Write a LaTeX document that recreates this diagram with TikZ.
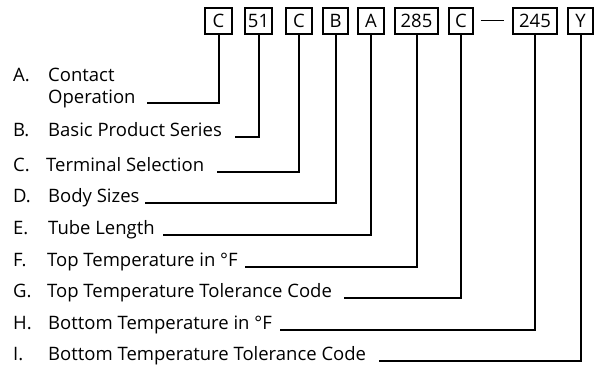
\documentclass[tikz,border=0pt]{standalone}
\usepackage{fontspec}
\setmainfont{Open Sans}
\begin{document}
\begin{tikzpicture}[x=1pt,y=-1pt,
  codebox/.style={draw,line width=1.1pt,minimum height=26pt,inner xsep=1pt,font=\fontsize{18.5}{20}\selectfont},
  lbl/.style={anchor=base west,inner sep=0pt,font=\fontsize{18.5}{20}\selectfont},
  conn/.style={line width=2pt}]
\useasboundingbox (0,0) rectangle (600,371);
% code boxes
\node[codebox,minimum width=27pt] (b1) at (218.5,21) {C};
\node[codebox,minimum width=27pt] (b2) at (258.5,21) {51};
\node[codebox,minimum width=26pt] (b3) at (299,21) {C};
\node[codebox,minimum width=25pt] (b4) at (335.5,21) {B};
\node[codebox,minimum width=26pt] (b5) at (371,21) {A};
\node[codebox,minimum width=43pt] (b6) at (416.5,21) {285};
\node[codebox,minimum width=24pt] (b7) at (461,21) {C};
\node[codebox,minimum width=44pt] (b8) at (535,21) {245};
\node[codebox,minimum width=25pt] (b9) at (580.5,21) {Y};
\draw[line width=1pt,shorten <=7pt,shorten >=8pt] (b7.east) -- (b8.west);
% labels
\node[lbl] (kA) at (13,82) {A.};
\node[lbl] (tA1) at (48,82) {Contact};
\node[lbl] (tA2) at (48,104) {Operation};
\node[lbl] (kB) at (13,137) {B.};
\node[lbl] (tB) at (48,137) {Basic Product Series};
\node[lbl] (kC) at (13,172) {C.};
\node[lbl] (tC) at (46,172) {Terminal Selection};
\node[lbl] (kD) at (13,203) {D.};
\node[lbl] (tD) at (48,203) {Body Sizes};
\node[lbl] (kE) at (13,235) {E.};
\node[lbl] (tE) at (48,235) {Tube Length};
\node[lbl] (kF) at (13,267) {F.};
\node[lbl] (tF) at (47,267) {Top Temperature in °F};
\node[lbl] (kG) at (13,298) {G.};
\node[lbl] (tG) at (47,298) {Top Temperature Tolerance Code};
\node[lbl] (kH) at (13,330) {H.};
\node[lbl] (tH) at (48,330) {Bottom Temperature in °F};
\node[lbl] (kI) at (13,361) {I.};
\node[lbl] (tI) at (48,361) {Bottom Temperature Tolerance Code};
% connector starts
\coordinate (sA) at (147,103);
\coordinate (sB) at (235,137);
\coordinate (sC) at (217,172);
\coordinate (sD) at (145,203);
\coordinate (sE) at (163,235);
\coordinate (sF) at (245,267);
\coordinate (sG) at (344,298);
\coordinate (sH) at (280,330);
\coordinate (sI) at (379,361);
% connectors
\draw[conn] (sA) -| (b1.south);
\draw[conn] (sB) -| (b2.south);
\draw[conn] (sC) -| (b3.south);
\draw[conn] (sD) -| (b4.south);
\draw[conn] (sE) -| (b5.south);
\draw[conn] (sF) -| (b6.south);
\draw[conn] (sG) -| (b7.south);
\draw[conn] (sH) -| (b8.south);
\draw[conn] (sI) -| (b9.south);
\end{tikzpicture}
\end{document}
